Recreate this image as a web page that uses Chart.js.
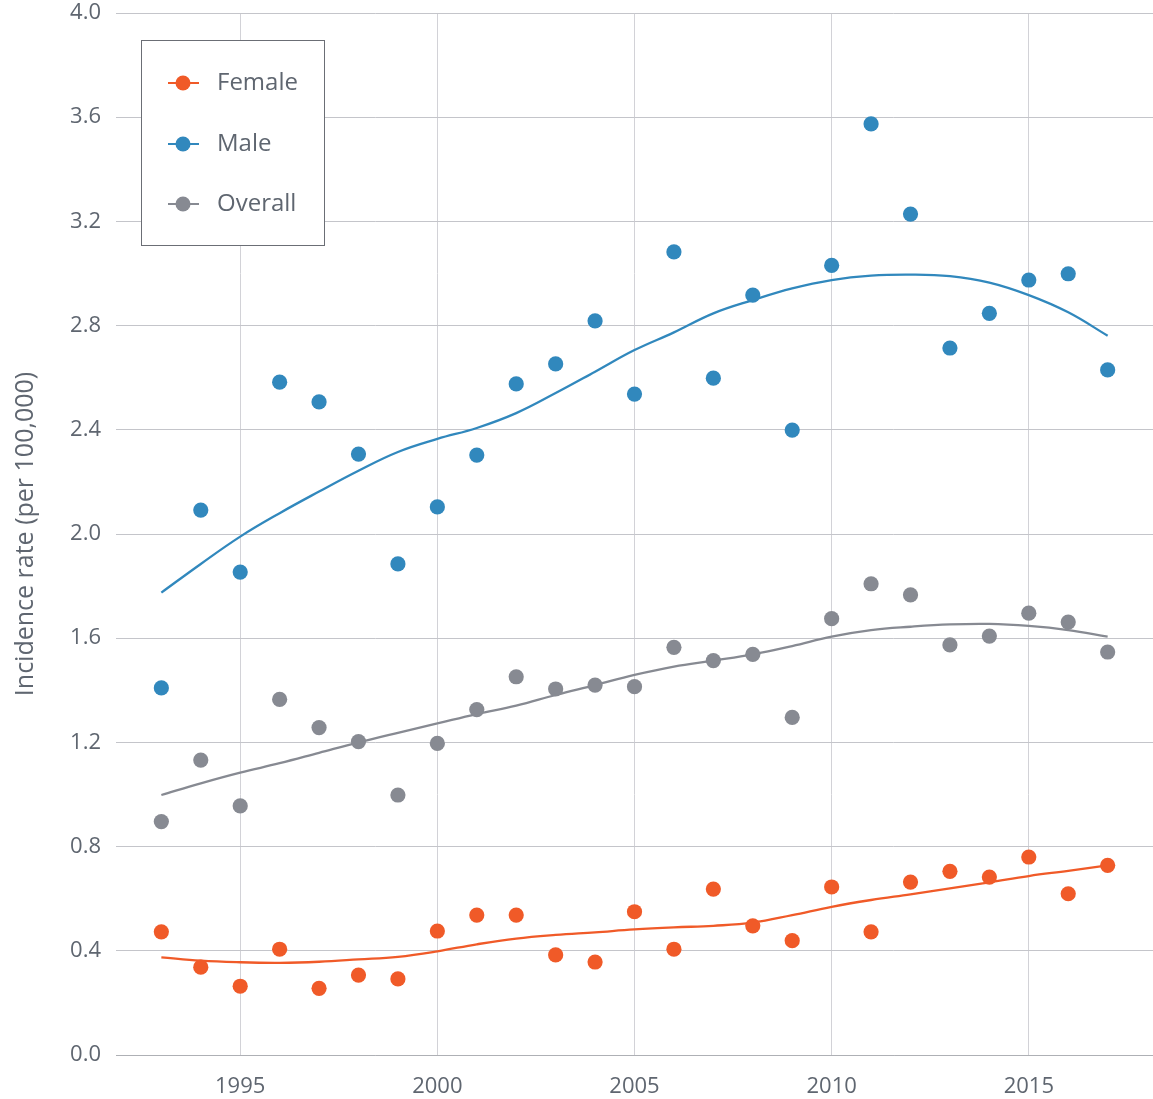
<!DOCTYPE html>
<html>
<head>
<meta charset="utf-8">
<script src="https://cdn.jsdelivr.net/npm/chart.js@4/dist/chart.umd.min.js"></script>
<style>
  html, body { margin: 0; padding: 0; background: #ffffff; }
  #wrap { position: relative; width: 1153px; height: 1099px; }
</style>
</head>
<body>
<div id="wrap"><canvas id="c" width="1153" height="1099"></canvas></div>
<script>
// ---- Data ----
const years = [1993, 1994, 1995, 1996, 1997, 1998, 1999, 2000, 2001, 2002, 2003, 2004, 2005,
               2006, 2007, 2008, 2009, 2010, 2011, 2012, 2013, 2014, 2015, 2016, 2017];

const femaleRate = [0.473, 0.337, 0.264, 0.406, 0.256, 0.307, 0.292, 0.476, 0.537, 0.537, 0.384, 0.357, 0.550,
                    0.406, 0.637, 0.496, 0.439, 0.645, 0.473, 0.664, 0.705, 0.683, 0.760, 0.619, 0.728];
const maleRate = [1.409, 2.092, 1.854, 2.583, 2.507, 2.307, 1.885, 2.104, 2.303, 2.576, 2.653, 2.818, 2.537,
                  3.083, 2.598, 2.917, 2.399, 3.031, 3.574, 3.228, 2.714, 2.847, 2.975, 2.999, 2.630];
const overallRate = [0.896, 1.132, 0.956, 1.365, 1.257, 1.203, 0.998, 1.196, 1.326, 1.452, 1.405, 1.420, 1.414,
                     1.565, 1.514, 1.538, 1.296, 1.675, 1.809, 1.766, 1.574, 1.608, 1.696, 1.662, 1.547];

// smoothed trend lines
const femaleTrend = [0.375, 0.362, 0.356, 0.354, 0.358, 0.367, 0.377, 0.398, 0.425, 0.447, 0.461, 0.471, 0.482,
                     0.490, 0.496, 0.508, 0.537, 0.569, 0.595, 0.617, 0.640, 0.663, 0.687, 0.707, 0.728];
const maleTrend = [1.775, 1.885, 1.990, 2.080, 2.163, 2.243, 2.315, 2.365, 2.407, 2.464, 2.541, 2.623, 2.706,
                   2.774, 2.847, 2.898, 2.943, 2.975, 2.992, 2.996, 2.990, 2.965, 2.917, 2.851, 2.761];
const overallTrend = [0.998, 1.043, 1.084, 1.120, 1.160, 1.200, 1.237, 1.273, 1.309, 1.341, 1.382, 1.420, 1.459,
                      1.491, 1.514, 1.538, 1.570, 1.606, 1.631, 1.644, 1.653, 1.655, 1.647, 1.631, 1.606];

const seriesNames = ['Female', 'Male', 'Overall'];
const seriesColors = ['#f05a28', '#3188bd', '#878a92'];

const xTicks = [1995, 2000, 2005, 2010, 2015];
const yTicks = [0.0, 0.4, 0.8, 1.2, 1.6, 2.0, 2.4, 2.8, 3.2, 3.6, 4.0];

const yTitle = 'Incidence rate (per 100,000)';

// ---- Build datasets ----
function pts(vals) { return years.map((y, i) => ({ x: y, y: vals[i] })); }

const pointSets = [femaleRate, maleRate, overallRate];
const trendSets = [femaleTrend, maleTrend, overallTrend];

const datasets = [];
seriesNames.forEach((name, i) => {
  datasets.push({
    label: name + ' trend',
    data: pts(trendSets[i]),
    showLine: true,
    borderColor: seriesColors[i],
    borderWidth: 2.3,
    pointRadius: 0,
    tension: 0.4,
    fill: false,
    order: 2
  });
  datasets.push({
    label: name,
    data: pts(pointSets[i]),
    showLine: false,
    backgroundColor: seriesColors[i],
    borderWidth: 0,
    pointRadius: 7.6,
    pointHoverRadius: 7.6,
    order: 1
  });
});

const FONT = '"Open Sans", "DejaVu Sans", sans-serif';
const textColor = '#5f6670';

// Legend box drawn inside plot area
const boxLegend = {
  id: 'boxLegend',
  afterDraw(chart) {
    const ctx = chart.ctx;
    const x0 = 141.5, y0 = 40.5, w = 183, h = 205;
    ctx.save();
    ctx.fillStyle = '#ffffff';
    ctx.fillRect(x0, y0, w, h);
    ctx.strokeStyle = '#6b6e75';
    ctx.lineWidth = 1;
    ctx.strokeRect(x0, y0, w, h);
    const rows = [83, 144, 204];
    ctx.font = '24px ' + FONT;
    ctx.textBaseline = 'middle';
    ctx.textAlign = 'left';
    seriesNames.forEach((name, i) => {
      const cy = rows[i];
      ctx.strokeStyle = seriesColors[i];
      ctx.lineWidth = 2;
      ctx.beginPath();
      ctx.moveTo(168, cy);
      ctx.lineTo(199, cy);
      ctx.stroke();
      ctx.fillStyle = seriesColors[i];
      ctx.beginPath();
      ctx.arc(183, cy, 7.5, 0, Math.PI * 2);
      ctx.fill();
      ctx.fillStyle = textColor;
      ctx.fillText(name, 217, cy);
    });
    ctx.restore();
  }
};

new Chart(document.getElementById('c'), {
  type: 'scatter',
  data: { datasets },
  plugins: [boxLegend],
  options: {
    responsive: false,
    animation: false,
    devicePixelRatio: 1,
    layout: { autoPadding: false, padding: { top: 13, right: 0, left: 0, bottom: 0 } },
    plugins: {
      legend: { display: false },
      tooltip: { enabled: false },
      title: { display: false }
    },
    scales: {
      x: {
        type: 'linear',
        min: 1991.85,
        max: 2018.15,
        afterBuildTicks(scale) { scale.ticks = xTicks.map(v => ({ value: v })); },
        afterFit(scale) {
          scale.height = 44;
          scale.paddingLeft = 0; scale.paddingRight = 0;
        },
        grid: { display: true, color: '#d2d2d7', lineWidth: 1, drawTicks: false },
        border: { display: true, color: '#aeb0b5', width: 1 },
        ticks: {
          color: textColor,
          font: { family: FONT, size: 22 },
          padding: 19,
          maxRotation: 0,
          callback: v => String(v)
        }
      },
      y: {
        type: 'linear',
        min: 0,
        max: 4,
        afterBuildTicks(scale) { scale.ticks = yTicks.map(v => ({ value: v })); },
        afterFit(scale) {
          scale.width = 116;
          scale.paddingTop = 0; scale.paddingBottom = 0;
        },
        grid: { display: true, color: '#c4c5ca', lineWidth: 1, drawTicks: false },
        border: { display: false },
        title: {
          display: true,
          text: yTitle,
          color: textColor,
          font: { family: FONT, size: 25 },
          padding: { top: 11, bottom: 4 }
        },
        ticks: {
          color: textColor,
          font: { family: FONT, size: 22 },
          padding: 15,
          callback: v => Number(v).toFixed(1)
        }
      }
    }
  }
});
</script>
</body>
</html>
